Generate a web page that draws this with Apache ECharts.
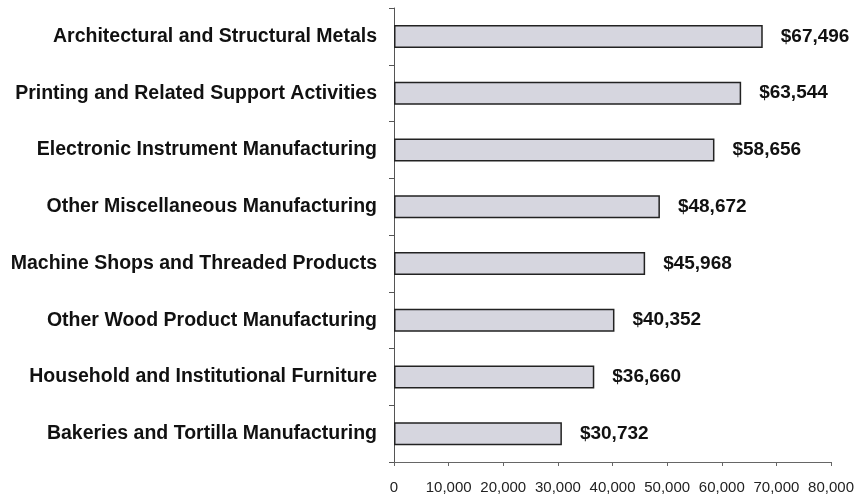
<!DOCTYPE html>
<html>
<head>
<meta charset="utf-8">
<script src="https://cdn.jsdelivr.net/npm/echarts@6/dist/echarts.min.js"></script>
<style>
  html, body { margin: 0; padding: 0; background: #fff; }
  #chart { width: 857px; height: 497px; }
</style>
</head>
<body>
<div id="chart"></div>
<script>
// Industries, listed bottom to top as the category axis draws them
const industries = [
  'Bakeries and Tortilla Manufacturing',
  'Household and Institutional Furniture',
  'Other Wood Product Manufacturing',
  'Machine Shops and Threaded Products',
  'Other Miscellaneous Manufacturing',
  'Electronic Instrument Manufacturing',
  'Printing and Related Support Activities',
  'Architectural and Structural Metals'
];
const wages = [30732, 36660, 40352, 45968, 48672, 58656, 63544, 67496];
const xTicks = [0, 10000, 20000, 30000, 40000, 50000, 60000, 70000, 80000];

const chart = echarts.init(document.getElementById('chart'));
const fmt = v => v.toLocaleString('en-US');
const FONT = 'Liberation Sans, Arial, sans-serif';

chart.setOption({
  animation: false,
  backgroundColor: '#ffffff',
  grid: { left: 394, right: 25, top: 8, bottom: 35 },
  xAxis: {
    type: 'value',
    min: xTicks[0],
    max: xTicks[xTicks.length - 1],
    interval: xTicks[1] - xTicks[0],
    splitLine: { show: false },
    axisLine: { show: true, lineStyle: { color: '#666', width: 1 } },
    axisTick: { show: true, length: 4, lineStyle: { color: '#666' } },
    axisLabel: {
      color: '#222', fontSize: 15, fontFamily: FONT,
      margin: 18, formatter: v => fmt(v)
    }
  },
  yAxis: {
    type: 'category',
    data: industries,
    axisLine: { show: true, lineStyle: { color: '#555', width: 1 } },
    axisTick: { show: true, alignWithLabel: false, length: 5, lineStyle: { color: '#555' } },
    axisLabel: {
      color: '#111', fontSize: 19.5, fontWeight: 'bold',
      fontFamily: FONT, margin: 17
    }
  },
  series: [{
    type: 'bar',
    data: wages,
    barWidth: 23,
    itemStyle: { color: '#d6d6df', borderColor: '#222', borderWidth: 1.5 },
    label: {
      show: true, position: 'right', distance: 18,
      color: '#111', fontSize: 19, fontWeight: 'bold',
      fontFamily: FONT,
      formatter: p => '$' + fmt(p.value)
    }
  }]
});
</script>
</body>
</html>
